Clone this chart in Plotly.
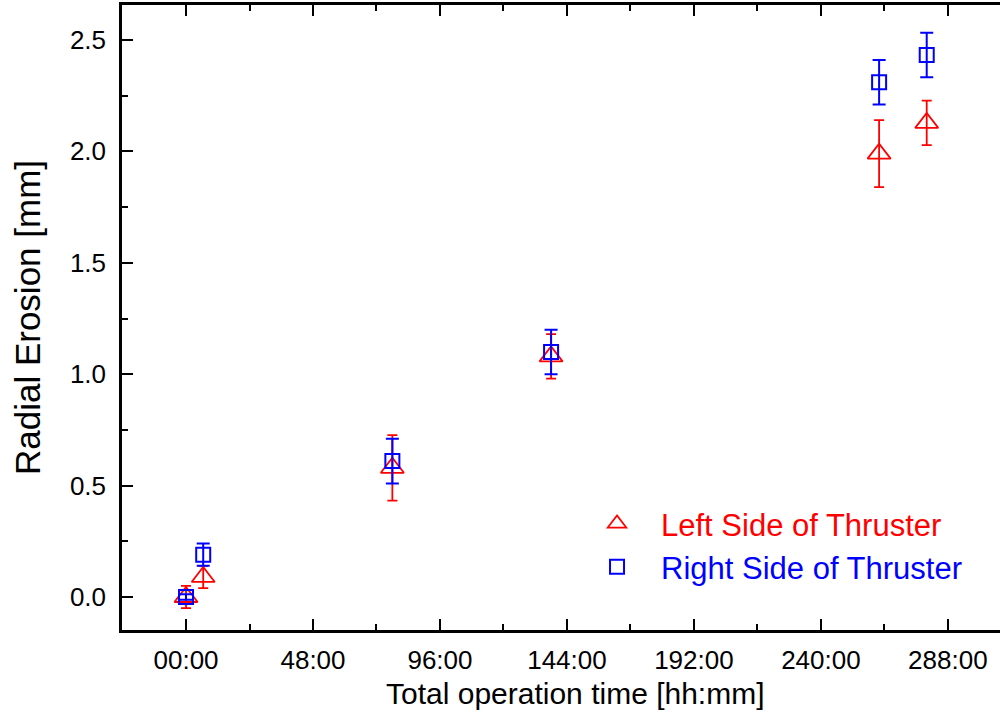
import plotly.graph_objects as go

# Data (hours of operation, radial erosion in mm)
hours = [0, 6.5, 78, 138, 262, 280]
left_erosion = [0.0, 0.09, 0.58, 1.08, 1.99, 2.128]
left_err = [0.05, 0.05, 0.147, 0.1, 0.15, 0.1]
right_erosion = [0.0, 0.19, 0.61, 1.10, 2.31, 2.433]
right_err = [0.012, 0.05, 0.1, 0.1, 0.1, 0.1]

x_tickvals = [0, 48, 96, 144, 192, 240, 288]
x_ticktext = ["00:00", "48:00", "96:00", "144:00", "192:00", "240:00", "288:00"]
y_tickvals = [0.0, 0.5, 1.0, 1.5, 2.0, 2.5]
y_ticktext = ["0.0", "0.5", "1.0", "1.5", "2.0", "2.5"]

RED = "#ff0000"
BLUE = "#0000ff"
FONT = "Liberation Sans, Arial, sans-serif"

fig = go.Figure()
fig.add_trace(go.Scatter(
    x=hours, y=left_erosion, mode="markers",
    name="<span style='color:#ff0000'>Left Side of Thruster</span>",
    marker=dict(symbol="triangle-up-open", size=20, color=RED, line=dict(width=1.8, color=RED)),
    error_y=dict(type="data", array=left_err, visible=True, color=RED, thickness=1.8, width=5),
))
fig.add_trace(go.Scatter(
    x=hours, y=right_erosion, mode="markers",
    name="<span style='color:#0000ff'>Right Side of Thruster</span>",
    marker=dict(symbol="square-open", size=14, color=BLUE, line=dict(width=2, color=BLUE)),
    error_y=dict(type="data", array=right_err, visible=True, color=BLUE, thickness=2, width=6.5),
))

fig.update_layout(
    width=1000, height=718,
    margin=dict(l=122, r=0, t=5, b=88),
    paper_bgcolor="white", plot_bgcolor="white",
    font=dict(family=FONT, color="black"),
    showlegend=True,
    legend=dict(x=0.5137, y=0.213, xanchor="left", yanchor="top",
                font=dict(size=31, family=FONT), bgcolor="rgba(0,0,0,0)",
                itemwidth=78, tracegroupgap=0),
    annotations=[dict(
        text="Total operation time [hh:mm]", xref="paper", yref="paper",
        x=(575 - 122) / 878, y=0, xanchor="center", yanchor="middle",
        yshift=-63, showarrow=False, font=dict(size=30, family=FONT, color="black"),
    )],
)
fig.update_xaxes(
    range=[-24.2, 307.7],
    tickmode="array", tickvals=x_tickvals, ticktext=x_ticktext,
    ticks="inside", ticklen=11, tickwidth=2, tickcolor="black",
    minor=dict(tickmode="linear", tick0=0, dtick=24, ticks="inside", ticklen=6, tickwidth=2, tickcolor="black"),
    showline=True, linewidth=2.5, linecolor="black", mirror="allticks",
    showgrid=False, zeroline=False,
    tickfont=dict(size=26, family=FONT), ticklabelstandoff=5,
)
fig.update_yaxes(
    range=[-0.148, 2.657],
    tickmode="array", tickvals=y_tickvals, ticktext=y_ticktext,
    ticks="inside", ticklen=11, tickwidth=2, tickcolor="black",
    minor=dict(tickmode="linear", tick0=0, dtick=0.25, ticks="inside", ticklen=6, tickwidth=2, tickcolor="black"),
    showline=True, linewidth=2.5, linecolor="black", mirror=False,
    showgrid=False, zeroline=False,
    tickfont=dict(size=26, family=FONT), ticklabelstandoff=8,
    title=dict(text="Radial Erosion [mm]", font=dict(size=35, family=FONT), standoff=19),
)

fig.write_html("out.html")
